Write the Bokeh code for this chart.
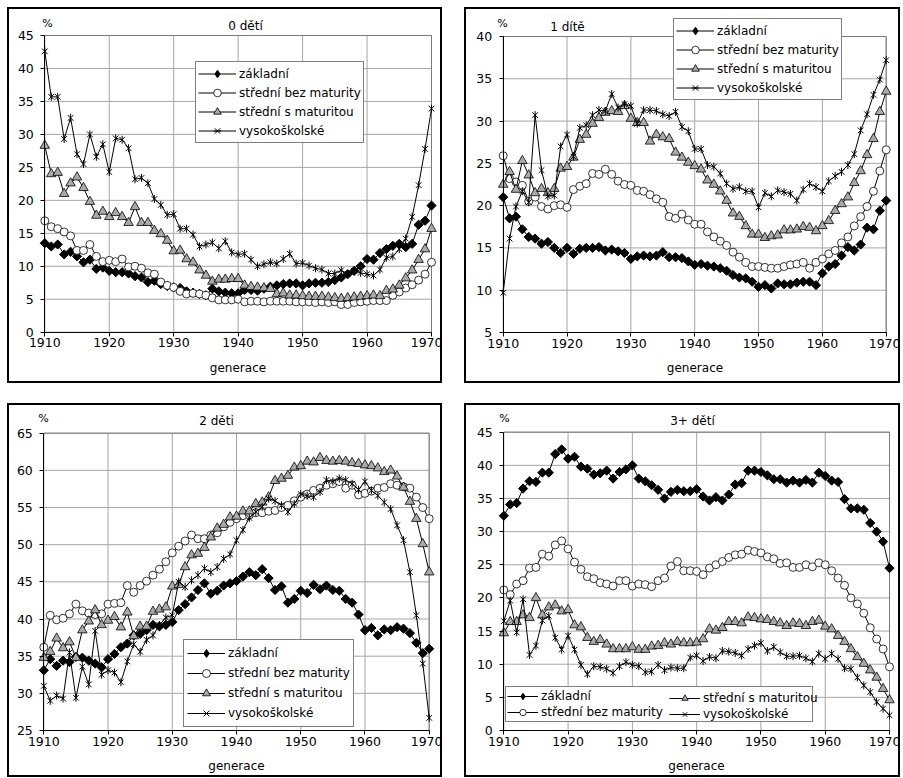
import math
from bokeh.plotting import figure
from bokeh.models import Range1d, FixedTicker, Label, Legend, LegendItem
from bokeh.layouts import row, column
from bokeh.embed import file_html
from bokeh.resources import INLINE

# ---------------- data ----------------
years = list(range(1910, 1971))
x_ticks = [1910, 1920, 1930, 1940, 1950, 1960, 1970]
series_names = ["základní", "střední bez maturity", "střední s maturitou", "vysokoškolské"]
panel_titles = ["0 dětí", "1 dítě", "2 děti", "3+ dětí"]
x_axis_label = "generace"
unit_label = "%"

y_ticks_0 = [0, 5, 10, 15, 20, 25, 30, 35, 40, 45]
y_ticks_1 = [5, 10, 15, 20, 25, 30, 35, 40]
y_ticks_2 = [25, 30, 35, 40, 45, 50, 55, 60, 65]
y_ticks_3 = [0, 5, 10, 15, 20, 25, 30, 35, 40, 45]

# 0 dětí
zakladni_0 = [13.5, 13.0, 13.3, 11.8, 12.2, 11.5, 10.6, 11.0, 9.6, 9.8,
              9.3, 9.1, 9.1, 8.9, 8.5, 8.3, 7.6, 7.8, 7.3, 7.0,
              6.8, 6.7, 6.2, 6.0, 5.8, 5.6, 6.6, 6.2, 6.0, 5.9,
              5.9, 6.4, 6.4, 6.3, 6.6, 6.9, 7.1, 7.3, 7.4, 7.4,
              7.1, 7.4, 7.5, 7.5, 7.6, 7.9, 8.3, 8.8, 9.3, 10.0,
              11.1, 11.0, 12.0, 12.6, 13.1, 13.4, 12.9, 13.4, 16.3, 16.9, 19.2]
bez_maturity_0 = [16.9, 16.0, 15.7, 15.2, 14.6, 12.4, 12.4, 13.3, 11.5, 10.7,
                  10.9, 10.7, 11.1, 9.9, 10.0, 9.7, 9.0, 8.8, 7.6, 7.1,
                  6.8, 6.2, 5.8, 5.9, 5.8, 5.6, 5.2, 4.9, 4.9, 4.9,
                  5.0, 4.6, 4.7, 4.7, 4.6, 4.7, 4.7, 4.7, 4.7, 4.6,
                  4.6, 4.6, 4.5, 4.6, 4.5, 4.6, 4.2, 4.2, 4.5, 4.6,
                  4.7, 4.8, 4.8, 4.8, 5.6, 6.1, 6.7, 7.2, 7.9, 8.8, 10.6]
s_maturitou_0 = [28.3, 24.0, 24.2, 21.0, 22.6, 23.5, 21.9, 19.8, 17.7, 18.3,
                 17.5, 18.1, 17.5, 16.6, 19.0, 16.6, 16.6, 15.4, 14.9, 13.9,
                 12.3, 12.4, 11.1, 10.6, 9.4, 8.6, 7.7, 8.0, 8.0, 8.1,
                 8.1, 7.1, 6.9, 6.8, 6.7, 6.6, 5.8, 5.9, 5.6, 5.6,
                 5.5, 5.4, 5.4, 5.4, 5.3, 5.2, 5.1, 5.2, 5.3, 5.4,
                 5.5, 5.6, 5.5, 6.3, 6.5, 7.1, 8.2, 9.4, 11.0, 12.6, 15.7]
vysoko_0 = [42.6, 35.7, 35.7, 29.3, 32.5, 27.0, 25.5, 30.0, 26.6, 28.5,
            24.3, 29.4, 29.2, 27.9, 23.2, 23.4, 22.6, 20.2, 19.3, 17.8,
            17.9, 15.7, 15.7, 14.8, 13.0, 13.3, 13.6, 12.7, 13.8, 12.1,
            11.8, 11.9, 11.0, 10.0, 10.3, 10.6, 10.4, 11.1, 11.9, 10.4,
            10.5, 10.1, 9.7, 9.5, 8.9, 8.9, 9.4, 8.8, 9.3, 9.0,
            8.8, 8.6, 9.5, 11.3, 11.5, 12.6, 14.2, 17.5, 22.3, 27.8, 33.9]

# 1 dítě
zakladni_1 = [21.0, 18.5, 18.7, 17.2, 16.3, 16.1, 15.5, 15.7, 15.0, 14.4,
              15.0, 14.3, 14.9, 15.0, 15.0, 15.1, 14.7, 14.8, 14.6, 14.4,
              13.7, 14.0, 14.1, 14.0, 14.1, 14.5, 13.9, 13.9, 13.8, 13.4,
              13.0, 13.1, 12.9, 12.8, 12.6, 12.3, 11.8, 11.5, 11.4, 11.0,
              10.4, 10.6, 10.2, 10.8, 10.7, 10.7, 10.9, 11.0, 11.0, 10.6,
              12.0, 12.8, 13.1, 14.1, 15.1, 14.7, 15.4, 17.4, 17.2, 19.4, 20.6]
bez_maturity_1 = [25.9, 23.2, 22.8, 22.4, 20.5, 21.0, 19.9, 19.6, 20.0, 20.1,
                  19.8, 21.9, 22.3, 22.6, 23.8, 23.7, 24.3, 23.7, 22.9, 22.5,
                  22.4, 21.8, 21.7, 21.3, 20.8, 20.4, 18.7, 18.5, 19.0, 18.3,
                  17.8, 17.8, 16.9, 16.3, 15.8, 15.3, 14.5, 13.9, 13.3, 12.8,
                  12.8, 12.7, 12.6, 12.6, 12.8, 13.0, 13.1, 13.3, 12.6, 13.3,
                  13.7, 14.3, 14.7, 15.6, 16.3, 17.6, 18.7, 19.9, 21.7, 24.1, 26.6]
s_maturitou_1 = [22.5, 24.0, 21.9, 25.3, 23.6, 21.5, 22.0, 21.5, 22.0, 24.4,
                 24.6, 25.7, 27.8, 28.4, 29.7, 30.4, 31.0, 31.2, 31.1, 31.8,
                 30.3, 29.8, 29.8, 27.6, 28.4, 28.1, 27.9, 26.3, 25.7, 25.1,
                 24.7, 24.3, 23.0, 22.5, 21.7, 20.6, 19.1, 18.7, 17.6, 16.6,
                 16.6, 16.2, 16.4, 16.5, 17.1, 17.1, 17.2, 17.5, 17.4, 17.0,
                 17.6, 18.2, 19.4, 20.2, 21.0, 22.7, 24.1, 26.0, 27.9, 31.1, 33.5]
vysoko_1 = [9.7, 16.1, 19.9, 21.7, 20.4, 30.7, 24.2, 21.1, 21.2, 27.0,
            28.4, 25.8, 29.2, 29.5, 30.7, 31.3, 31.2, 33.2, 31.6, 32.0,
            31.8, 29.7, 31.3, 31.3, 31.2, 30.8, 30.6, 31.1, 29.3, 28.8,
            26.7, 26.7, 24.8, 24.6, 23.8, 22.6, 22.0, 22.2, 21.7, 21.7,
            19.8, 21.5, 21.1, 21.8, 21.6, 21.4, 20.6, 21.9, 22.6, 22.2,
            21.7, 22.9, 23.5, 24.0, 24.8, 26.1, 28.9, 30.8, 33.1, 34.9, 37.2]

# 2 děti
zakladni_2 = [33.1, 34.6, 33.7, 34.4, 34.2, 34.9, 34.8, 34.4, 34.0, 33.5,
              34.6, 35.3, 36.2, 36.7, 37.8, 38.0, 38.5, 39.2, 39.0, 39.2,
              39.6, 41.2, 42.0, 42.9, 43.9, 44.8, 43.4, 43.8, 44.5, 44.8,
              45.1, 45.7, 46.3, 45.9, 46.7, 45.5, 43.9, 44.4, 42.2, 42.7,
              43.8, 43.5, 44.6, 44.0, 44.5, 43.9, 43.8, 42.7, 42.2, 40.6,
              38.5, 38.8, 37.8, 38.6, 38.5, 38.9, 38.7, 38.1, 36.8, 35.4, 36.0]
bez_maturity_2 = [36.2, 40.5, 39.9, 40.1, 40.7, 42.0, 41.1, 40.8, 40.6, 40.7,
                  42.0, 42.1, 42.2, 44.5, 43.6, 44.5, 45.1, 45.9, 46.7, 47.7,
                  48.9, 49.8, 50.5, 51.3, 50.8, 50.8, 51.3, 51.6, 52.4, 53.0,
                  53.5, 53.9, 54.0, 54.3, 54.3, 54.5, 54.6, 55.0, 55.3, 55.9,
                  56.4, 56.8, 57.3, 57.6, 58.0, 58.2, 58.5, 57.6, 58.0, 56.7,
                  56.9, 57.2, 57.6, 57.7, 58.2, 58.0, 57.8, 57.6, 56.4, 55.0, 53.5]
s_maturitou_2 = [34.8, 35.6, 37.4, 36.1, 36.9, 34.8, 38.5, 39.7, 41.2, 39.2,
                 39.8, 40.3, 38.9, 40.9, 37.7, 39.0, 39.0, 41.0, 41.3, 41.6,
                 44.4, 44.6, 47.0, 48.6, 48.8, 49.6, 51.0, 52.2, 52.7, 53.7,
                 53.8, 54.5, 54.5, 55.5, 55.7, 56.4, 58.6, 58.9, 59.3, 60.4,
                 60.6, 61.2, 61.1, 61.7, 61.3, 61.2, 61.3, 61.2, 61.0, 60.9,
                 60.7, 60.6, 60.3, 59.8, 60.0, 59.2, 57.7, 55.8, 53.5, 50.1, 46.3]
vysoko_2 = [31.0, 29.0, 29.7, 29.3, 35.5, 29.4, 33.6, 31.2, 38.4, 32.5,
            33.1, 32.8, 31.5, 34.3, 36.6, 35.6, 37.2, 37.8, 39.2, 40.2,
            40.5, 45.0, 44.3, 45.2, 45.9, 46.8, 46.3, 47.0, 48.1, 48.7,
            50.6, 52.0, 53.6, 54.4, 55.1, 56.2, 55.9, 55.3, 54.4, 55.5,
            56.8, 56.6, 56.4, 57.1, 58.7, 58.5, 58.9, 58.7, 58.2, 57.4,
            58.5, 57.3, 56.6, 55.7, 54.8, 52.6, 50.6, 46.3, 40.5, 34.0, 26.7]

# 3+ dětí
zakladni_3 = [32.4, 34.1, 34.3, 36.5, 37.6, 37.5, 38.9, 38.9, 41.7, 42.4,
              41.0, 41.3, 39.8, 39.5, 38.6, 38.8, 39.2, 38.0, 39.0, 39.4,
              40.0, 38.0, 37.6, 37.0, 36.3, 35.0, 36.0, 36.3, 36.1, 36.1,
              36.4, 35.3, 34.7, 35.2, 34.7, 35.6, 37.1, 37.3, 39.2, 39.2,
              39.0, 38.5, 37.9, 37.9, 37.4, 37.7, 37.4, 37.8, 37.4, 38.9,
              38.4, 37.7, 37.5, 34.9, 33.5, 33.5, 33.3, 31.3, 30.0, 28.5, 24.5]
bez_maturity_3 = [21.2, 20.5, 22.1, 22.6, 24.5, 24.6, 26.6, 26.3, 28.0, 28.6,
                  27.4, 25.4, 24.3, 23.2, 22.9, 22.3, 22.1, 21.8, 22.6, 22.6,
                  21.8, 22.1, 22.0, 21.7, 22.6, 23.0, 24.8, 25.5, 24.1, 24.1,
                  24.0, 23.5, 24.5, 25.0, 25.5, 26.1, 26.5, 26.6, 27.2, 27.0,
                  26.8, 26.2, 25.9, 25.2, 25.3, 24.6, 24.6, 25.0, 24.7, 25.3,
                  25.0, 24.1, 23.0, 21.9, 20.0, 19.1, 17.7, 15.5, 13.8, 12.3, 9.6]
s_maturitou_3 = [14.7, 16.4, 16.4, 17.4, 17.0, 20.0, 17.4, 18.6, 18.9, 18.0,
                 18.2, 15.9, 15.6, 14.0, 13.4, 13.7, 13.0, 12.3, 12.3, 12.3,
                 12.6, 12.2, 12.2, 12.7, 12.8, 13.2, 13.0, 13.4, 13.2, 13.2,
                 13.3, 13.8, 15.3, 15.1, 15.5, 16.4, 16.4, 16.2, 17.1, 17.0,
                 16.8, 16.7, 16.4, 16.2, 15.8, 16.2, 16.1, 15.8, 16.4, 16.6,
                 15.7, 15.3, 14.3, 13.4, 12.3, 11.1, 10.1, 9.1, 8.0, 6.3, 4.6]
vysoko_3 = [16.5, 19.6, 14.8, 19.8, 11.4, 12.8, 16.6, 17.3, 14.0, 12.2,
            14.3, 12.2, 9.9, 8.5, 9.7, 9.6, 9.3, 8.7, 9.7, 10.3,
            9.9, 9.7, 8.8, 8.9, 9.9, 9.1, 9.5, 9.4, 9.4, 11.0,
            11.3, 10.5, 11.1, 10.9, 12.0, 11.9, 11.7, 11.3, 12.3, 12.8,
            13.2, 12.0, 12.6, 11.8, 11.2, 11.2, 11.3, 10.9, 10.4, 11.6,
            10.8, 11.6, 10.8, 9.4, 9.3, 8.0, 6.8, 5.8, 4.3, 3.3, 2.3]

# ---------------- style ----------------
FONT = "DejaVu Sans"
GRID = "#a6a6a6"
PLOT_BORDER = "#7a7a7a"
TRI_FILL = "#a9a9a9"


def add_series(p, ys, kind):
    line_r = p.line(years, ys, line_color="black", line_width=1)
    if kind == 0:
        # tiny diamond used only for the legend symbol (hidden under the markers)
        leg_d = p.scatter(years, ys, marker="diamond", size=0.1,
                          fill_color="black", line_color="black")
        p.scatter(years, ys, marker="square", angle=math.pi / 4, size=6.5,
                  fill_color="black", line_color="black")
        leg = [line_r, leg_d]
    elif kind == 1:
        r = p.scatter(years, ys, marker="circle", size=8,
                      fill_color="white", line_color="black", line_width=0.8)
        leg = [line_r, r]
    elif kind == 2:
        r = p.scatter(years, ys, marker="triangle", size=9.5,
                      fill_color=TRI_FILL, line_color="black", line_width=0.8)
        leg = [line_r, r]
    else:
        r1 = p.scatter(years, ys, marker="x", size=8, line_color="black", line_width=1)
        r2 = p.scatter(years, ys, marker="dash", angle=math.pi / 2, size=8,
                       line_color="black", line_width=1)
        leg = [line_r, r1, r2]
    return leg


def make_panel(W, H, x1910, x1970, top, bottom, yr, yticks, series, title,
               pct_pos, title_pos, legends):
    ppy = (x1970 - x1910) / 60.0
    ppu = (bottom - top) / float(yr[1] - yr[0])
    x0 = 1910 - x1910 / ppy
    x1 = 1910 + (W - x1910) / ppy
    y1 = yr[1] + top / ppu
    y0 = yr[0] - (H - bottom) / ppu

    def X(px):
        return x0 + px / ppy

    def Y(py):
        return y1 - py / ppu

    p = figure(width=W, height=H, output_backend="svg", toolbar_location=None,
               x_range=Range1d(x0, x1), y_range=Range1d(y0, y1),
               min_border_left=0, min_border_right=0,
               min_border_top=0, min_border_bottom=0)
    p.outline_line_color = "black"
    p.outline_line_width = 3
    p.background_fill_color = "white"
    p.border_fill_color = "white"
    p.xgrid.visible = False
    p.ygrid.visible = False

    # grid lines of the plot area (bounded to the axis ranges)
    p.segment(x0=x_ticks, y0=[yr[0]] * len(x_ticks), x1=x_ticks, y1=[yr[1]] * len(x_ticks),
              line_color=GRID, line_width=1)
    p.segment(x0=[1910] * len(yticks), y0=yticks, x1=[1970] * len(yticks), y1=yticks,
              line_color=GRID, line_width=1)
    # darker border of the plot area (top and right edges)
    p.segment(x0=[1910, 1970], y0=[yr[1], yr[0]], x1=[1970, 1970], y1=[yr[1], yr[1]],
              line_color=PLOT_BORDER, line_width=1)

    xt = FixedTicker(ticks=x_ticks)
    yt = FixedTicker(ticks=yticks)
    p.xaxis.ticker = xt
    p.yaxis.ticker = yt
    p.xaxis.bounds = (1910, 1970)
    p.yaxis.bounds = (yr[0], yr[1])
    p.xaxis.fixed_location = yr[0]
    p.yaxis.fixed_location = 1910
    for ax in (p.xaxis[0], p.yaxis[0]):
        ax.axis_line_color = "black"
        ax.axis_line_width = 1
        ax.major_tick_line_color = "black"
        ax.major_tick_in = 0
        ax.major_tick_out = 4
        ax.minor_tick_line_color = None
        ax.major_label_text_font = FONT
        ax.major_label_text_font_size = "12.5px"
        ax.major_label_text_color = "black"
    p.xaxis.major_label_standoff = 2
    p.yaxis.major_label_standoff = 7
    p.xaxis.axis_label = x_axis_label
    p.xaxis.axis_label_text_font = FONT
    p.xaxis.axis_label_text_font_size = "12px"
    p.xaxis.axis_label_text_font_style = "normal"
    p.xaxis.axis_label_text_color = "black"
    p.xaxis.axis_label_standoff = 10

    rend = [add_series(p, ys, k) for k, ys in enumerate(series)]

    for spec in legends:
        idx, (lx, lb), row_h, pad, gw, lab_w, border = spec
        items = [LegendItem(label=series_names[i], renderers=rend[i]) for i in idx]
        leg = Legend(items=items, location=(lx, H - lb), orientation="vertical",
                     glyph_width=gw, glyph_height=row_h, label_height=row_h,
                     label_width=lab_w, spacing=0, padding=pad,
                     margin=0, label_standoff=3,
                     label_text_font=FONT, label_text_font_size="12px",
                     label_text_color="black",
                     border_line_color="black" if border else None,
                     border_line_width=1,
                     background_fill_color="white",
                     background_fill_alpha=1.0 if border else 0.0)
        p.add_layout(leg, "center")

    p.add_layout(Label(x=X(pct_pos[0]), y=Y(pct_pos[1]), text=unit_label, text_font=FONT,
                       text_font_size="11px", text_align="center",
                       text_baseline="alphabetic", text_color="black"))
    p.add_layout(Label(x=X(title_pos[0]), y=Y(title_pos[1]), text=title, text_font=FONT,
                       text_font_size="12px", text_align="center",
                       text_baseline="alphabetic", text_color="black"))
    return p


p0 = make_panel(435, 376, 37.3, 424, 28, 324.7, (0, 45), y_ticks_0,
                [zakladni_0, bez_maturity_0, s_maturitou_0, vysoko_0],
                panel_titles[0], (40, 16), (238, 18),
                [([0, 1, 2, 3], (188, 136), 19, 2, 38, 20, True)])
p1 = make_panel(436, 376, 38.7, 421.7, 29, 325, (5, 40), y_ticks_1,
                [zakladni_1, bez_maturity_1, s_maturitou_1, vysoko_1],
                panel_titles[1], (38, 16), (103, 19),
                [([0, 1, 2, 3], (209, 93), 19, 2, 38, 20, True)])
p2 = make_panel(435, 374, 36.3, 421.7, 29.7, 327, (25, 65), y_ticks_2,
                [zakladni_2, bez_maturity_2, s_maturitou_2, vysoko_2],
                panel_titles[2], (36, 15), (209, 17),
                [([0, 1, 2, 3], (176, 324), 20, 3, 38, 20, True)])
p3 = make_panel(436, 374, 39.3, 425, 28.7, 327, (0, 45), y_ticks_3,
                [zakladni_3, bez_maturity_3, s_maturitou_3, vysoko_3],
                panel_titles[3], (40, 15), (228, 17),
                [([0, 1], (41, 319), 16, 1, 31, 270, True),
                 ([2, 3], (205, 319), 16, 1, 31, 20, False)])

layout = column(row(p0, p1, spacing=22), row(p2, p3, spacing=22),
                spacing=20, margin=(7, 0, 0, 7))

open("out.html", "w").write(file_html(layout, INLINE))
